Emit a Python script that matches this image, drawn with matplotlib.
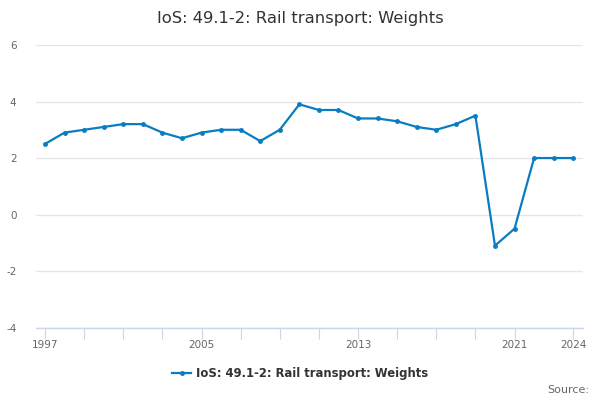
import matplotlib
matplotlib.use("Agg")
import matplotlib.pyplot as plt

plt.rcParams["axes.unicode_minus"] = False

YEARS = list(range(1997, 2025))
WEIGHTS = [2.5, 2.9, 3.0, 3.1, 3.2, 3.2, 2.9, 2.7, 2.9, 3.0,
           3.0, 2.6, 3.0, 3.9, 3.7, 3.7, 3.4, 3.4, 3.3, 3.1,
           3.0, 3.2, 3.5, -1.1, -0.5, 2.0, 2.0, 2.0]
TICK_YEARS = [1997, 1999, 2001, 2003, 2005, 2007, 2009, 2011,
              2013, 2015, 2017, 2019, 2021, 2024]
LABEL_YEARS = [1997, 2005, 2013, 2021, 2024]
Y_TICKS = [-4, -2, 0, 2, 4, 6]
SERIES_NAME = "IoS: 49.1-2: Rail transport: Weights"

LINE_COLOR = "#0a7cc1"
GRID_COLOR = "#e6e6e6"
AXIS_COLOR = "#ccd6eb"

fig = plt.figure(figsize=(6, 4), dpi=100)
ax = fig.add_axes([0.06, 0.181, 0.912, 0.7065])

ax.plot(YEARS, WEIGHTS, color=LINE_COLOR, linewidth=1.6,
        marker="o", markersize=2.5, label=SERIES_NAME)

ax.set_xlim(1996.54, 2024.51)
ax.set_ylim(-4, 6)
ax.set_yticks(Y_TICKS)
ax.set_xticks(TICK_YEARS)
ax.set_xticklabels([str(y) if y in LABEL_YEARS else "" for y in TICK_YEARS])

ax.grid(axis="y", color=GRID_COLOR, linewidth=1)
ax.set_axisbelow(True)
for side in ["top", "right", "left"]:
    ax.spines[side].set_visible(False)
ax.spines["bottom"].set_color(AXIS_COLOR)
ax.spines["bottom"].set_linewidth(1)

ax.tick_params(axis="y", length=0, labelsize=7.5, labelcolor="#666666", pad=14)
ax.tick_params(axis="x", length=8, color=AXIS_COLOR, labelsize=7.5,
               labelcolor="#666666", pad=1)

fig.text(0.5, 0.955, SERIES_NAME, ha="center", va="center",
         fontsize=11.8, color="#333333")

leg = fig.legend(loc="center", bbox_to_anchor=(0.5, 0.067), frameon=False,
                 prop={"size": 8.4, "weight": "bold"}, handlelength=1.6,
                 handletextpad=0.4)
for t in leg.get_texts():
    t.set_color("#333333")

fig.text(0.982, 0.025, "Source:", ha="right", va="center",
         fontsize=8, color="#666666")

fig.savefig("out.png", dpi=100)
